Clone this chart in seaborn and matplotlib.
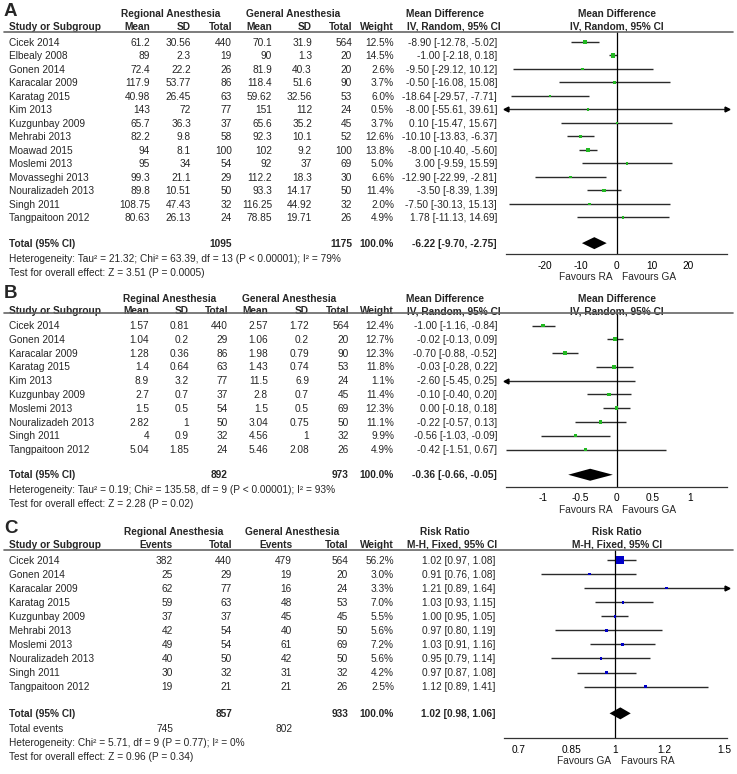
import matplotlib
matplotlib.use("Agg")
import matplotlib.pyplot as plt
import seaborn as sns
import pandas as pd
import numpy as np
from matplotlib.transforms import blended_transform_factory
from matplotlib.lines import Line2D

sns.set_style("white")
plt.rcParams['font.family'] = ['Liberation Sans', 'DejaVu Sans']
plt.rcParams['axes.unicode_minus'] = False

W, H = 737, 774
FS = 7.3

# ---------------- panel A: mean difference, random ----------------
studies_a = ["Cicek 2014", "Elbealy 2008", "Gonen 2014", "Karacalar 2009", "Karatag 2015", "Kim 2013",
             "Kuzgunbay 2009", "Mehrabi 2013", "Moawad 2015", "Moslemi 2013", "Movasseghi 2013",
             "Nouralizadeh 2013", "Singh 2011", "Tangpaitoon 2012"]
ra_mean_a = ["61.2", "89", "72.4", "117.9", "40.98", "143", "65.7", "82.2", "94", "95", "99.3", "89.8", "108.75", "80.63"]
ra_sd_a = ["30.56", "2.3", "22.2", "53.77", "26.45", "72", "36.3", "9.8", "8.1", "34", "21.1", "10.51", "47.43", "26.13"]
ra_n_a = [440, 19, 26, 86, 63, 77, 37, 58, 100, 54, 29, 50, 32, 24]
ga_mean_a = ["70.1", "90", "81.9", "118.4", "59.62", "151", "65.6", "92.3", "102", "92", "112.2", "93.3", "116.25", "78.85"]
ga_sd_a = ["31.9", "1.3", "40.3", "51.6", "32.56", "112", "35.2", "10.1", "9.2", "37", "18.3", "14.17", "44.92", "19.71"]
ga_n_a = [564, 20, 20, 90, 53, 24, 45, 52, 100, 69, 30, 50, 32, 26]
weight_a = [12.5, 14.5, 2.6, 3.7, 6.0, 0.5, 3.7, 12.6, 13.8, 5.0, 6.6, 11.4, 2.0, 4.9]
est_a = [-8.90, -1.00, -9.50, -0.50, -18.64, -8.00, 0.10, -10.10, -8.00, 3.00, -12.90, -3.50, -7.50, 1.78]
lo_a = [-12.78, -2.18, -29.12, -16.08, -29.57, -55.61, -15.47, -13.83, -10.40, -9.59, -22.99, -8.39, -30.13, -11.13]
hi_a = [-5.02, 0.18, 10.12, 15.08, -7.71, 39.61, 15.67, -6.37, -5.60, 15.59, -2.81, 1.39, 15.13, 14.69]
total_a = (1095, 1175, -6.22, -9.70, -2.75)

# ---------------- panel B ----------------
studies_b = ["Cicek 2014", "Gonen 2014", "Karacalar 2009", "Karatag 2015", "Kim 2013", "Kuzgunbay 2009",
             "Moslemi 2013", "Nouralizadeh 2013", "Singh 2011", "Tangpaitoon 2012"]
ra_mean_b = ["1.57", "1.04", "1.28", "1.4", "8.9", "2.7", "1.5", "2.82", "4", "5.04"]
ra_sd_b = ["0.81", "0.2", "0.36", "0.64", "3.2", "0.7", "0.5", "1", "0.9", "1.85"]
ra_n_b = [440, 29, 86, 63, 77, 37, 54, 50, 32, 24]
ga_mean_b = ["2.57", "1.06", "1.98", "1.43", "11.5", "2.8", "1.5", "3.04", "4.56", "5.46"]
ga_sd_b = ["1.72", "0.2", "0.79", "0.74", "6.9", "0.7", "0.5", "0.75", "1", "2.08"]
ga_n_b = [564, 20, 90, 53, 24, 45, 69, 50, 32, 26]
weight_b = [12.4, 12.7, 12.3, 11.8, 1.1, 11.4, 12.3, 11.1, 9.9, 4.9]
est_b = [-1.00, -0.02, -0.70, -0.03, -2.60, -0.10, 0.00, -0.22, -0.56, -0.42]
lo_b = [-1.16, -0.13, -0.88, -0.28, -5.45, -0.40, -0.18, -0.57, -1.03, -1.51]
hi_b = [-0.84, 0.09, -0.52, 0.22, 0.25, 0.20, 0.18, 0.13, -0.09, 0.67]
total_b = (892, 973, -0.36, -0.66, -0.05)

# ---------------- panel C: risk ratio, fixed ----------------
studies_c = ["Cicek 2014", "Gonen 2014", "Karacalar 2009", "Karatag 2015", "Kuzgunbay 2009", "Mehrabi 2013",
             "Moslemi 2013", "Nouralizadeh 2013", "Singh 2011", "Tangpaitoon 2012"]
ra_ev_c = [382, 25, 62, 59, 37, 42, 49, 40, 30, 19]
ra_n_c = [440, 29, 77, 63, 37, 54, 54, 50, 32, 21]
ga_ev_c = [479, 19, 16, 48, 45, 40, 61, 42, 31, 21]
ga_n_c = [564, 20, 24, 53, 45, 50, 69, 50, 32, 26]
weight_c = [56.2, 3.0, 3.3, 7.0, 5.5, 5.6, 7.2, 5.6, 4.2, 2.5]
est_c = [1.02, 0.91, 1.21, 1.03, 1.00, 0.97, 1.03, 0.95, 0.97, 1.12]
lo_c = [0.97, 0.76, 0.89, 0.93, 0.95, 0.80, 0.91, 0.79, 0.87, 0.89]
hi_c = [1.08, 1.08, 1.64, 1.15, 1.05, 1.19, 1.16, 1.14, 1.08, 1.41]
total_c = (857, 933, 1.02, 0.98, 1.06)
total_events_c = (745, 802)

fig = plt.figure(figsize=(W / 100, H / 100), dpi=100)


def make_axes(left_px, top_px, bottom_px, row0, sp):
    ax = fig.add_axes([left_px / W, 1 - bottom_px / H, (727 - left_px) / W, (bottom_px - top_px) / H])
    ax.set_ylim((bottom_px - row0) / sp, (top_px - row0) / sp)
    T = blended_transform_factory(fig.transFigure, ax.transData)
    return ax, T


def put(ax, T, sp, px, row, s, ha='right', bold=False):
    # baseline sits half a cap height below the row centre
    ax.text(px / W, row + 3.6 / sp, s, transform=T, ha=ha, va='baseline', fontsize=FS,
            fontweight='bold' if bold else 'normal', clip_on=False)


def forest(ax, sp, est, lo, hi, weight, color, xlim, zero, total, ticks, ticklabels, fav, log=False):
    rows = np.arange(len(est))
    if log:
        ax.set_xscale('log')
    ax.hlines(rows, lo, hi, color='#2a2a2a', lw=1.0)
    side = np.maximum(1.1 * np.sqrt(weight), 2.6) / 1.389
    df = pd.DataFrame({'est': est, 'row': rows})
    sns.scatterplot(data=df, x='est', y='row', marker='s', color=color, s=side ** 2,
                    linewidth=0, ax=ax, legend=False, zorder=3)
    for r, l, h in zip(rows, lo, hi):
        if l < xlim[0]:
            ax.plot(xlim[0], r, marker='<', ms=3.5, color='k', clip_on=False)
        if h > xlim[1]:
            ax.plot(xlim[1], r, marker='>', ms=3.5, color='k', clip_on=False)
    ax.axvline(zero, color='k', lw=0.9)
    t_est, t_lo, t_hi = total[2:]
    trow = total_row[ax]
    h = 6 / sp
    ax.fill([t_lo, t_est, t_hi, t_est], [trow, trow - h, trow, trow + h], color='k', lw=0)
    ax.set_xlim(*xlim)
    ax.set_xticks(ticks)
    ax.set_xticklabels(ticklabels)
    ax.xaxis.set_minor_locator(matplotlib.ticker.NullLocator())
    ax.set_yticks([])
    ax.set_xlabel('')
    ax.set_ylabel('')
    for s in ['top', 'left', 'right']:
        ax.spines[s].set_visible(False)
    ax.spines['bottom'].set_color('#333333')
    ax.spines['bottom'].set_linewidth(0.9)
    ax.tick_params(axis='x', direction='inout', length=5, width=0.8, labelsize=FS, pad=2.2, colors='k')
    ax.annotate(fav[0], xy=(zero, 0), xycoords=('data', 'axes fraction'), xytext=(-3, -16.6),
                textcoords='offset points', ha='right', va='center', fontsize=FS)
    ax.annotate(fav[1], xy=(zero, 0), xycoords=('data', 'axes fraction'), xytext=(4, -16.6),
                textcoords='offset points', ha='left', va='center', fontsize=FS)


def underline(T, row):
    fig.add_artist(Line2D([4 / W, 733 / W], [row, row], transform=T, color='#666666', lw=1.2))


total_row = {}

# ======== A ========
spA = 13.5
axA, TA = make_axes(506, 32, 254, 42, spA)
total_row[axA] = 14.9
fig.text(4 / W, 1 - 11.7 / H, "A", fontsize=13.5, fontweight='bold', ha='left', va='center')
put(axA, TA, spA, 171, -2.1, "Regional Anesthesia", ha='center', bold=True)
put(axA, TA, spA, 293, -2.1, "General Anesthesia", ha='center', bold=True)
put(axA, TA, spA, 445, -2.1, "Mean Difference", ha='center', bold=True)
put(axA, TA, spA, 617, -2.1, "Mean Difference", ha='center', bold=True)
put(axA, TA, spA, 9, -1.16, "Study or Subgroup", ha='left', bold=True)
colsA = [150, 191, 232, 272, 312, 352]
for px, lab in zip(colsA, ["Mean", "SD", "Total", "Mean", "SD", "Total"]):
    put(axA, TA, spA, px, -1.16, lab, bold=True)
put(axA, TA, spA, 394, -1.16, "Weight", bold=True)
put(axA, TA, spA, 407, -1.16, "IV, Random, 95% CI", ha='left', bold=True)
put(axA, TA, spA, 617, -1.16, "IV, Random, 95% CI", ha='center', bold=True)
underline(TA, (32 - 42) / spA)
for i, name in enumerate(studies_a):
    put(axA, TA, spA, 9, i, name, ha='left')
    vals = [ra_mean_a[i], ra_sd_a[i], ra_n_a[i], ga_mean_a[i], ga_sd_a[i], ga_n_a[i]]
    for px, v in zip(colsA, vals):
        put(axA, TA, spA, px, i, str(v))
    put(axA, TA, spA, 394, i, f"{weight_a[i]:.1f}%")
    put(axA, TA, spA, 497, i, f"{est_a[i]:.2f} [{lo_a[i]:.2f}, {hi_a[i]:.2f}]")
r = total_row[axA]
put(axA, TA, spA, 9, r, "Total (95% CI)", ha='left', bold=True)
put(axA, TA, spA, colsA[2], r, str(total_a[0]), bold=True)
put(axA, TA, spA, colsA[5], r, str(total_a[1]), bold=True)
put(axA, TA, spA, 394, r, "100.0%", bold=True)
put(axA, TA, spA, 497, r, f"{total_a[2]:.2f} [{total_a[3]:.2f}, {total_a[4]:.2f}]", bold=True)
put(axA, TA, spA, 9, 16.05, "Heterogeneity: Tau² = 21.32; Chi² = 63.39, df = 13 (P < 0.00001); I² = 79%", ha='left')
put(axA, TA, spA, 9, 17.05, "Test for overall effect: Z = 3.51 (P = 0.0005)", ha='left')
forest(axA, spA, est_a, lo_a, hi_a, np.array(weight_a), '#22b822', (-31, 31), 0, total_a,
       [-20, -10, 0, 10, 20], ['-20', '-10', '0', '10', '20'], ("Favours RA", "Favours GA"))

# ======== B ========
spB = 13.78
axB, TB = make_axes(506, 313, 486.7, 325.5, spB)
total_row[axB] = 10.83
fig.text(4 / W, 1 - 293.5 / H, "B", fontsize=13.5, fontweight='bold', ha='left', va='center')
put(axB, TB, spB, 170, -2.0, "Reginal Anesthesia", ha='center', bold=True)
put(axB, TB, spB, 289, -2.0, "General Anesthesia", ha='center', bold=True)
put(axB, TB, spB, 445, -2.0, "Mean Difference", ha='center', bold=True)
put(axB, TB, spB, 617, -2.0, "Mean Difference", ha='center', bold=True)
put(axB, TB, spB, 9, -1.07, "Study or Subgroup", ha='left', bold=True)
colsB = [149, 189, 228, 268, 309, 349]
for px, lab in zip(colsB, ["Mean", "SD", "Total", "Mean", "SD", "Total"]):
    put(axB, TB, spB, px, -1.07, lab, bold=True)
put(axB, TB, spB, 394, -1.07, "Weight", bold=True)
put(axB, TB, spB, 407, -1.07, "IV, Random, 95% CI", ha='left', bold=True)
put(axB, TB, spB, 617, -1.07, "IV, Random, 95% CI", ha='center', bold=True)
underline(TB, (313 - 325.5) / spB)
for i, name in enumerate(studies_b):
    put(axB, TB, spB, 9, i, name, ha='left')
    vals = [ra_mean_b[i], ra_sd_b[i], ra_n_b[i], ga_mean_b[i], ga_sd_b[i], ga_n_b[i]]
    for px, v in zip(colsB, vals):
        put(axB, TB, spB, px, i, str(v))
    put(axB, TB, spB, 394, i, f"{weight_b[i]:.1f}%")
    put(axB, TB, spB, 497, i, f"{est_b[i]:.2f} [{lo_b[i]:.2f}, {hi_b[i]:.2f}]")
r = total_row[axB]
put(axB, TB, spB, 9, r, "Total (95% CI)", ha='left', bold=True)
put(axB, TB, spB, colsB[2], r, str(total_b[0]), bold=True)
put(axB, TB, spB, colsB[5], r, str(total_b[1]), bold=True)
put(axB, TB, spB, 394, r, "100.0%", bold=True)
put(axB, TB, spB, 497, r, f"{total_b[2]:.2f} [{total_b[3]:.2f}, {total_b[4]:.2f}]", bold=True)
put(axB, TB, spB, 9, 11.9, "Heterogeneity: Tau² = 0.19; Chi² = 135.58, df = 9 (P < 0.00001); I² = 93%", ha='left')
put(axB, TB, spB, 9, 12.93, "Test for overall effect: Z = 2.28 (P = 0.02)", ha='left')
forest(axB, spB, est_b, lo_b, hi_b, np.array(weight_b), '#22b822', (-1.51, 1.51), 0, total_b,
       [-1, -0.5, 0, 0.5, 1], ['-1', '-0.5', '0', '0.5', '1'], ("Favours RA", "Favours GA"))

# ======== C ========
spC = 14.07
axC, TC = make_axes(504, 550, 738, 560, spC)
total_row[axC] = 10.9
fig.text(4 / W, 1 - 528.5 / H, "C", fontsize=13.5, fontweight='bold', ha='left', va='center')
put(axC, TC, spC, 174, -2.06, "Regional Anesthesia", ha='center', bold=True)
put(axC, TC, spC, 292, -2.06, "General Anesthesia", ha='center', bold=True)
put(axC, TC, spC, 445, -2.06, "Risk Ratio", ha='center', bold=True)
put(axC, TC, spC, 617, -2.06, "Risk Ratio", ha='center', bold=True)
put(axC, TC, spC, 9, -1.14, "Study or Subgroup", ha='left', bold=True)
colsC = [173, 232, 292, 348]
for px, lab in zip(colsC, ["Events", "Total", "Events", "Total"]):
    put(axC, TC, spC, px, -1.14, lab, bold=True)
put(axC, TC, spC, 394, -1.14, "Weight", bold=True)
put(axC, TC, spC, 407, -1.14, "M-H, Fixed, 95% CI", ha='left', bold=True)
put(axC, TC, spC, 617, -1.14, "M-H, Fixed, 95% CI", ha='center', bold=True)
underline(TC, (550 - 560) / spC)
for i, name in enumerate(studies_c):
    put(axC, TC, spC, 9, i, name, ha='left')
    vals = [ra_ev_c[i], ra_n_c[i], ga_ev_c[i], ga_n_c[i]]
    for px, v in zip(colsC, vals):
        put(axC, TC, spC, px, i, str(v))
    put(axC, TC, spC, 394, i, f"{weight_c[i]:.1f}%")
    put(axC, TC, spC, 495, i, f"{est_c[i]:.2f} [{lo_c[i]:.2f}, {hi_c[i]:.2f}]")
r = total_row[axC]
put(axC, TC, spC, 9, r, "Total (95% CI)", ha='left', bold=True)
put(axC, TC, spC, colsC[1], r, str(total_c[0]), bold=True)
put(axC, TC, spC, colsC[3], r, str(total_c[1]), bold=True)
put(axC, TC, spC, 394, r, "100.0%", bold=True)
put(axC, TC, spC, 495, r, f"{total_c[2]:.2f} [{total_c[3]:.2f}, {total_c[4]:.2f}]", bold=True)
put(axC, TC, spC, 9, 12.0, "Total events", ha='left')
put(axC, TC, spC, colsC[0], 12.0, str(total_events_c[0]))
put(axC, TC, spC, colsC[2], 12.0, str(total_events_c[1]))
put(axC, TC, spC, 9, 12.97, "Heterogeneity: Chi² = 5.71, df = 9 (P = 0.77); I² = 0%", ha='left')
put(axC, TC, spC, 9, 13.93, "Test for overall effect: Z = 0.96 (P = 0.34)", ha='left')
forest(axC, spC, est_c, lo_c, hi_c, np.array(weight_c), '#0000c8', (0.663, 1.514), 1, total_c,
       [0.7, 0.85, 1, 1.2, 1.5], ['0.7', '0.85', '1', '1.2', '1.5'], ("Favours GA", "Favours RA"), log=True)

fig.savefig("out.png", dpi=100)
